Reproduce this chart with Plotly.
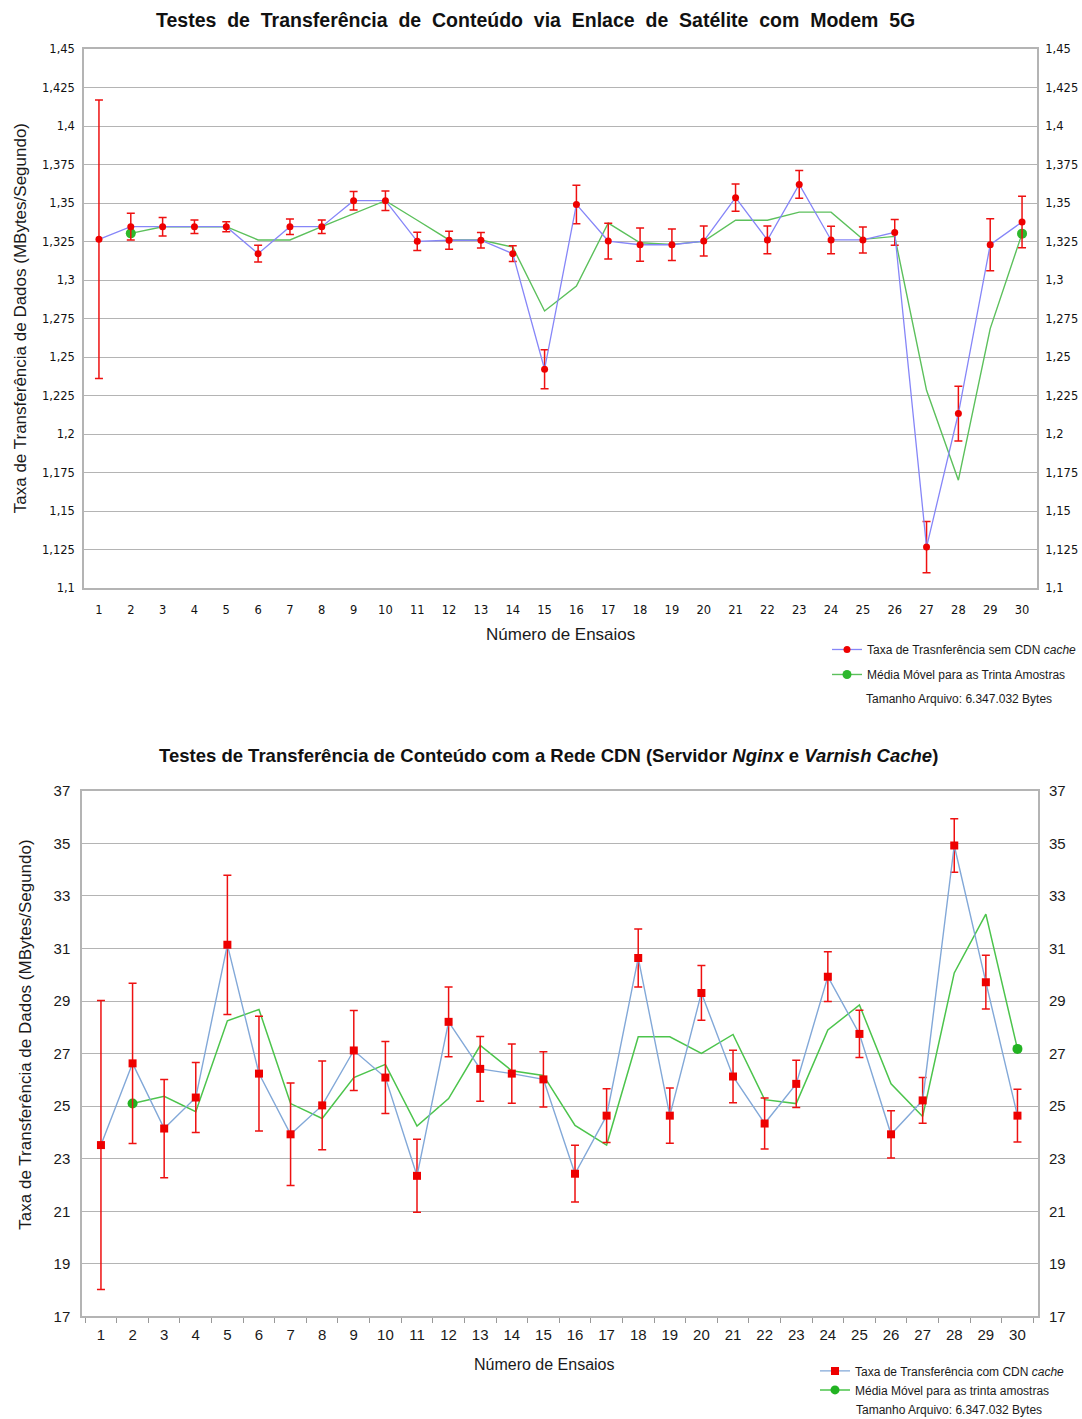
import plotly.graph_objects as go

# ---------------- data ----------------
ensaios = list(range(1, 31))

# Top chart: satellite link, no CDN cache
sem_cdn = [1.3266, 1.3348, 1.3348, 1.3348, 1.3348, 1.3173, 1.3348, 1.3348, 1.3517, 1.3517,
           1.3253, 1.3260, 1.3260, 1.3173, 1.2422, 1.3493, 1.3255, 1.3231, 1.3231, 1.3255,
           1.3537, 1.3262, 1.3623, 1.3262, 1.3262, 1.3311, 1.1266, 1.2134, 1.3231, 1.3379]
sem_cdn_err = [0.0905, 0.0087, 0.0060, 0.0044, 0.0032, 0.0054, 0.0050, 0.0044, 0.0060, 0.0063,
               0.0059, 0.0058, 0.0051, 0.0051, 0.0127, 0.0125, 0.0116, 0.0108, 0.0102, 0.0097,
               0.0089, 0.0090, 0.0090, 0.0089, 0.0084, 0.0084, 0.0166, 0.0178, 0.0169, 0.0167]
media_sem = [None, 1.3305, 1.3348, 1.3348, 1.3348, 1.3262, 1.3262, 1.3348, 1.3432, 1.3517,
             1.3390, 1.3262, 1.3262, 1.3216, 1.2800, 1.2963, 1.3372, 1.3244, 1.3233, 1.3253,
             1.3390, 1.3390, 1.3443, 1.3443, 1.3266, 1.3285, 1.2285, 1.1701, 1.2686, 1.3303]

# Bottom chart: CDN (Nginx + Varnish cache)
com_cdn = [23.52, 26.63, 24.15, 25.33, 31.14, 26.24, 23.93, 25.03, 27.12, 26.09,
           22.35, 28.21, 26.42, 26.24, 26.02, 22.43, 24.64, 30.64, 24.64, 29.31,
           26.13, 24.34, 25.85, 29.93, 27.75, 23.93, 25.22, 34.92, 29.72, 24.64]
com_cdn_err = [5.50, 3.05, 1.87, 1.33, 2.65, 2.18, 1.95, 1.69, 1.52, 1.37,
               1.39, 1.33, 1.23, 1.13, 1.05, 1.08, 1.02, 1.10, 1.05, 1.04,
               1.00, 0.97, 0.90, 0.95, 0.90, 0.90, 0.87, 1.02, 1.02, 1.00]
media_com = [None, 25.10, 25.38, 24.79, 28.25, 28.68, 25.10, 24.53, 26.09, 26.59,
             24.24, 25.29, 27.31, 26.35, 26.17, 24.27, 23.52, 27.64, 27.64, 27.01,
             27.73, 25.25, 25.10, 27.90, 28.85, 25.85, 24.61, 30.07, 32.31, 27.18]

top_ticks = [1.1, 1.125, 1.15, 1.175, 1.2, 1.225, 1.25, 1.275, 1.3, 1.325, 1.35, 1.375, 1.4, 1.425, 1.45]
top_ticktext = ["1,1", "1,125", "1,15", "1,175", "1,2", "1,225", "1,25", "1,275", "1,3", "1,325",
                "1,35", "1,375", "1,4", "1,425", "1,45"]
bot_ticks = [17, 19, 21, 23, 25, 27, 29, 31, 33, 35, 37]

# ---------------- styles ----------------
GRID = "#b4b4b4"
TXT = "#1a1a1a"
W = 1082.0
H_FIG = 1427.0
SCALE = 0.9889
OFF = 8.6


def py(y):
    # map a target pixel row of the final picture to paper coordinates
    return 1 - (y / SCALE - OFF) / H_FIG


def px(x):
    return x / W


fig = go.Figure()

# --- top chart traces ---
ma_idx_top = [i for i, v in enumerate(media_sem) if v is not None]
fig.add_trace(go.Scatter(x=ensaios, y=media_sem, mode="lines", line=dict(color="#5cc05c", width=1.4),
                         xaxis="x", yaxis="y", showlegend=False, hoverinfo="skip"))
fig.add_trace(go.Scatter(x=[ensaios[ma_idx_top[0]], ensaios[ma_idx_top[-1]]],
                         y=[media_sem[ma_idx_top[0]], media_sem[ma_idx_top[-1]]],
                         mode="markers", marker=dict(color="#2db82d", size=10),
                         xaxis="x", yaxis="y", showlegend=False))
fig.add_trace(go.Scatter(x=ensaios, y=sem_cdn, mode="lines+markers",
                         name="Taxa de Trasnferência sem CDN <i>cache</i>", legendgroup="a",
                         line=dict(color="#8686f8", width=1.3),
                         marker=dict(color="#ee0000", size=7, symbol="circle"),
                         error_y=dict(type="data", array=sem_cdn_err, color="#ee1111", thickness=1.5, width=4),
                         xaxis="x", yaxis="y", legend="legend"))
fig.add_trace(go.Scatter(x=[None], y=[None], mode="lines+markers", legendgroup="b",
                         name="Média Móvel para as Trinta Amostras",
                         line=dict(color="#5cc05c", width=1.4), marker=dict(color="#2db82d", size=9),
                         xaxis="x", yaxis="y", legend="legend"))
# right mirror axis (top)
fig.add_trace(go.Scatter(x=[None], y=[None], xaxis="x", yaxis="y3", showlegend=False))

# --- bottom chart traces ---
fig.add_trace(go.Scatter(x=ensaios, y=media_com, mode="lines", line=dict(color="#4cc44c", width=1.5),
                         xaxis="x2", yaxis="y2", showlegend=False, hoverinfo="skip"))
ma_idx_bot = [i for i, v in enumerate(media_com) if v is not None]
fig.add_trace(go.Scatter(x=[ensaios[ma_idx_bot[0]], ensaios[ma_idx_bot[-1]]],
                         y=[media_com[ma_idx_bot[0]], media_com[ma_idx_bot[-1]]],
                         mode="markers", marker=dict(color="#22b322", size=10),
                         xaxis="x2", yaxis="y2", showlegend=False))
fig.add_trace(go.Scatter(x=ensaios, y=com_cdn, mode="lines+markers",
                         name="Taxa de Transferência com CDN <i>cache</i>",
                         line=dict(color="#82a8d8", width=1.4),
                         marker=dict(color="#ee0000", size=8, symbol="square"),
                         error_y=dict(type="data", array=com_cdn_err, color="#ee1111", thickness=1.5, width=4),
                         xaxis="x2", yaxis="y2", legend="legend2"))
fig.add_trace(go.Scatter(x=[None], y=[None], mode="lines+markers",
                         name="Média Móvel para as trinta amostras",
                         line=dict(color="#4cc44c", width=1.5), marker=dict(color="#22b322", size=9),
                         xaxis="x2", yaxis="y2", legend="legend2"))
fig.add_trace(go.Scatter(x=[None], y=[None], xaxis="x2", yaxis="y4", showlegend=False))

top_dom_x = [px(84), px(1037)]
top_dom_y = [py(588), py(49)]
bot_dom_x = [px(82), px(1038)]
bot_dom_y = [py(1317), py(791)]

tick_font_top = dict(family="DejaVu Sans", size=11.5, color="#111")
tick_font_bot = dict(family="Liberation Sans", size=15, color=TXT)

fig.update_layout(
    width=1082, height=int(H_FIG),
    margin=dict(l=0, r=0, t=0, b=0),
    paper_bgcolor="white", plot_bgcolor="white",
    separators=",.",
    xaxis=dict(domain=top_dom_x, range=[0.53, 30.47], tickvals=ensaios, ticks="outside", ticklen=10,
               tickcolor="rgba(0,0,0,0)", showgrid=False, zeroline=False, showline=True, linecolor=GRID,
               linewidth=1.5, mirror=True, tickfont=tick_font_top, anchor="y"),
    yaxis=dict(domain=top_dom_y, range=[1.1, 1.45], tickvals=top_ticks, ticktext=top_ticktext,
               showgrid=True, gridcolor=GRID, gridwidth=1.3, zeroline=False, ticks="outside", ticklen=5,
               tickcolor="rgba(0,0,0,0)", showline=True, linecolor=GRID, linewidth=1.5, mirror=True,
               tickfont=tick_font_top, anchor="x"),
    yaxis3=dict(overlaying="y", side="right", range=[1.1, 1.45], tickvals=top_ticks, ticktext=top_ticktext,
                showgrid=False, zeroline=False, ticks="outside", ticklen=5, tickcolor="rgba(0,0,0,0)",
                tickfont=tick_font_top, anchor="x"),
    xaxis2=dict(domain=bot_dom_x, range=[0.4, 30.65], tickvals=ensaios, ticks="outside", ticklen=4,
                tickcolor="rgba(0,0,0,0)", showgrid=False, zeroline=False, showline=True, linecolor=GRID,
                linewidth=1.5, mirror=True, tickfont=tick_font_bot, anchor="y2",
                minor=dict(tick0=0.5, dtick=1, ticks="outside", ticklen=5, tickcolor="#999999",
                           tickwidth=1.2, showgrid=False)),
    yaxis2=dict(domain=bot_dom_y, range=[17, 37], tickvals=bot_ticks, showgrid=True, gridcolor=GRID,
                gridwidth=1.3, zeroline=False, ticks="outside", ticklen=7, tickcolor="rgba(0,0,0,0)",
                showline=True, linecolor=GRID, linewidth=1.5, mirror=True, tickfont=tick_font_bot,
                anchor="x2"),
    yaxis4=dict(overlaying="y2", side="right", range=[17, 37], tickvals=bot_ticks, showgrid=False,
                zeroline=False, ticks="outside", ticklen=7, tickcolor="rgba(0,0,0,0)",
                tickfont=tick_font_bot, anchor="x2"),
    legend=dict(x=px(827), y=py(635), xanchor="left", yanchor="top", bgcolor="rgba(0,0,0,0)",
                font=dict(family="Liberation Sans", size=12, color=TXT), tracegroupgap=6, itemwidth=30,
                traceorder="grouped"),
    legend2=dict(x=px(815), y=py(1357), xanchor="left", yanchor="top", bgcolor="rgba(0,0,0,0)",
                 font=dict(family="Liberation Sans", size=12, color=TXT), tracegroupgap=0, itemwidth=30),
    showlegend=True,
)

annots = [
    dict(text="<b>Testes  de  Transferência  de  Conteúdo  via  Enlace  de  Satélite  com  Modem  5G</b>",
         x=px(535), y=py(20), font=dict(family="Liberation Sans", size=19.5, color="#111")),
    dict(text="<b>Testes de Transferência de Conteúdo com a Rede CDN (Servidor <i>Nginx</i> e <i>Varnish Cache</i>)</b>",
         x=px(548), y=py(756), font=dict(family="Liberation Sans", size=18.5, color="#111")),
    dict(text="Número de Ensaios", x=px(560), y=py(635), font=dict(family="Liberation Sans", size=17, color=TXT)),
    dict(text="Número de Ensaios", x=px(544), y=py(1365), font=dict(family="Liberation Sans", size=16, color=TXT)),
    dict(text="Taxa de Transferência de Dados (MBytes/Segundo)", x=px(20), y=py(318), textangle=-90,
         font=dict(family="Liberation Sans", size=17, color=TXT)),
    dict(text="Taxa de Transferência de Dados (MBytes/Segundo)", x=px(26), y=py(1035), textangle=-90,
         font=dict(family="Liberation Sans", size=17, color=TXT)),
    dict(text="Tamanho Arquivo: 6.347.032 Bytes", x=px(959), y=py(699),
         font=dict(family="Liberation Sans", size=12, color=TXT)),
    dict(text="Tamanho Arquivo: 6.347.032 Bytes", x=px(949), y=py(1411),
         font=dict(family="Liberation Sans", size=12, color=TXT)),
]
for a in annots:
    a.update(xref="paper", yref="paper", showarrow=False, xanchor="center", yanchor="middle")
fig.update_layout(annotations=annots)

fig.write_html("out.html", config={"displayModeBar": False},
               post_script="document.body.style.margin='0';document.body.style.padding='0';")
